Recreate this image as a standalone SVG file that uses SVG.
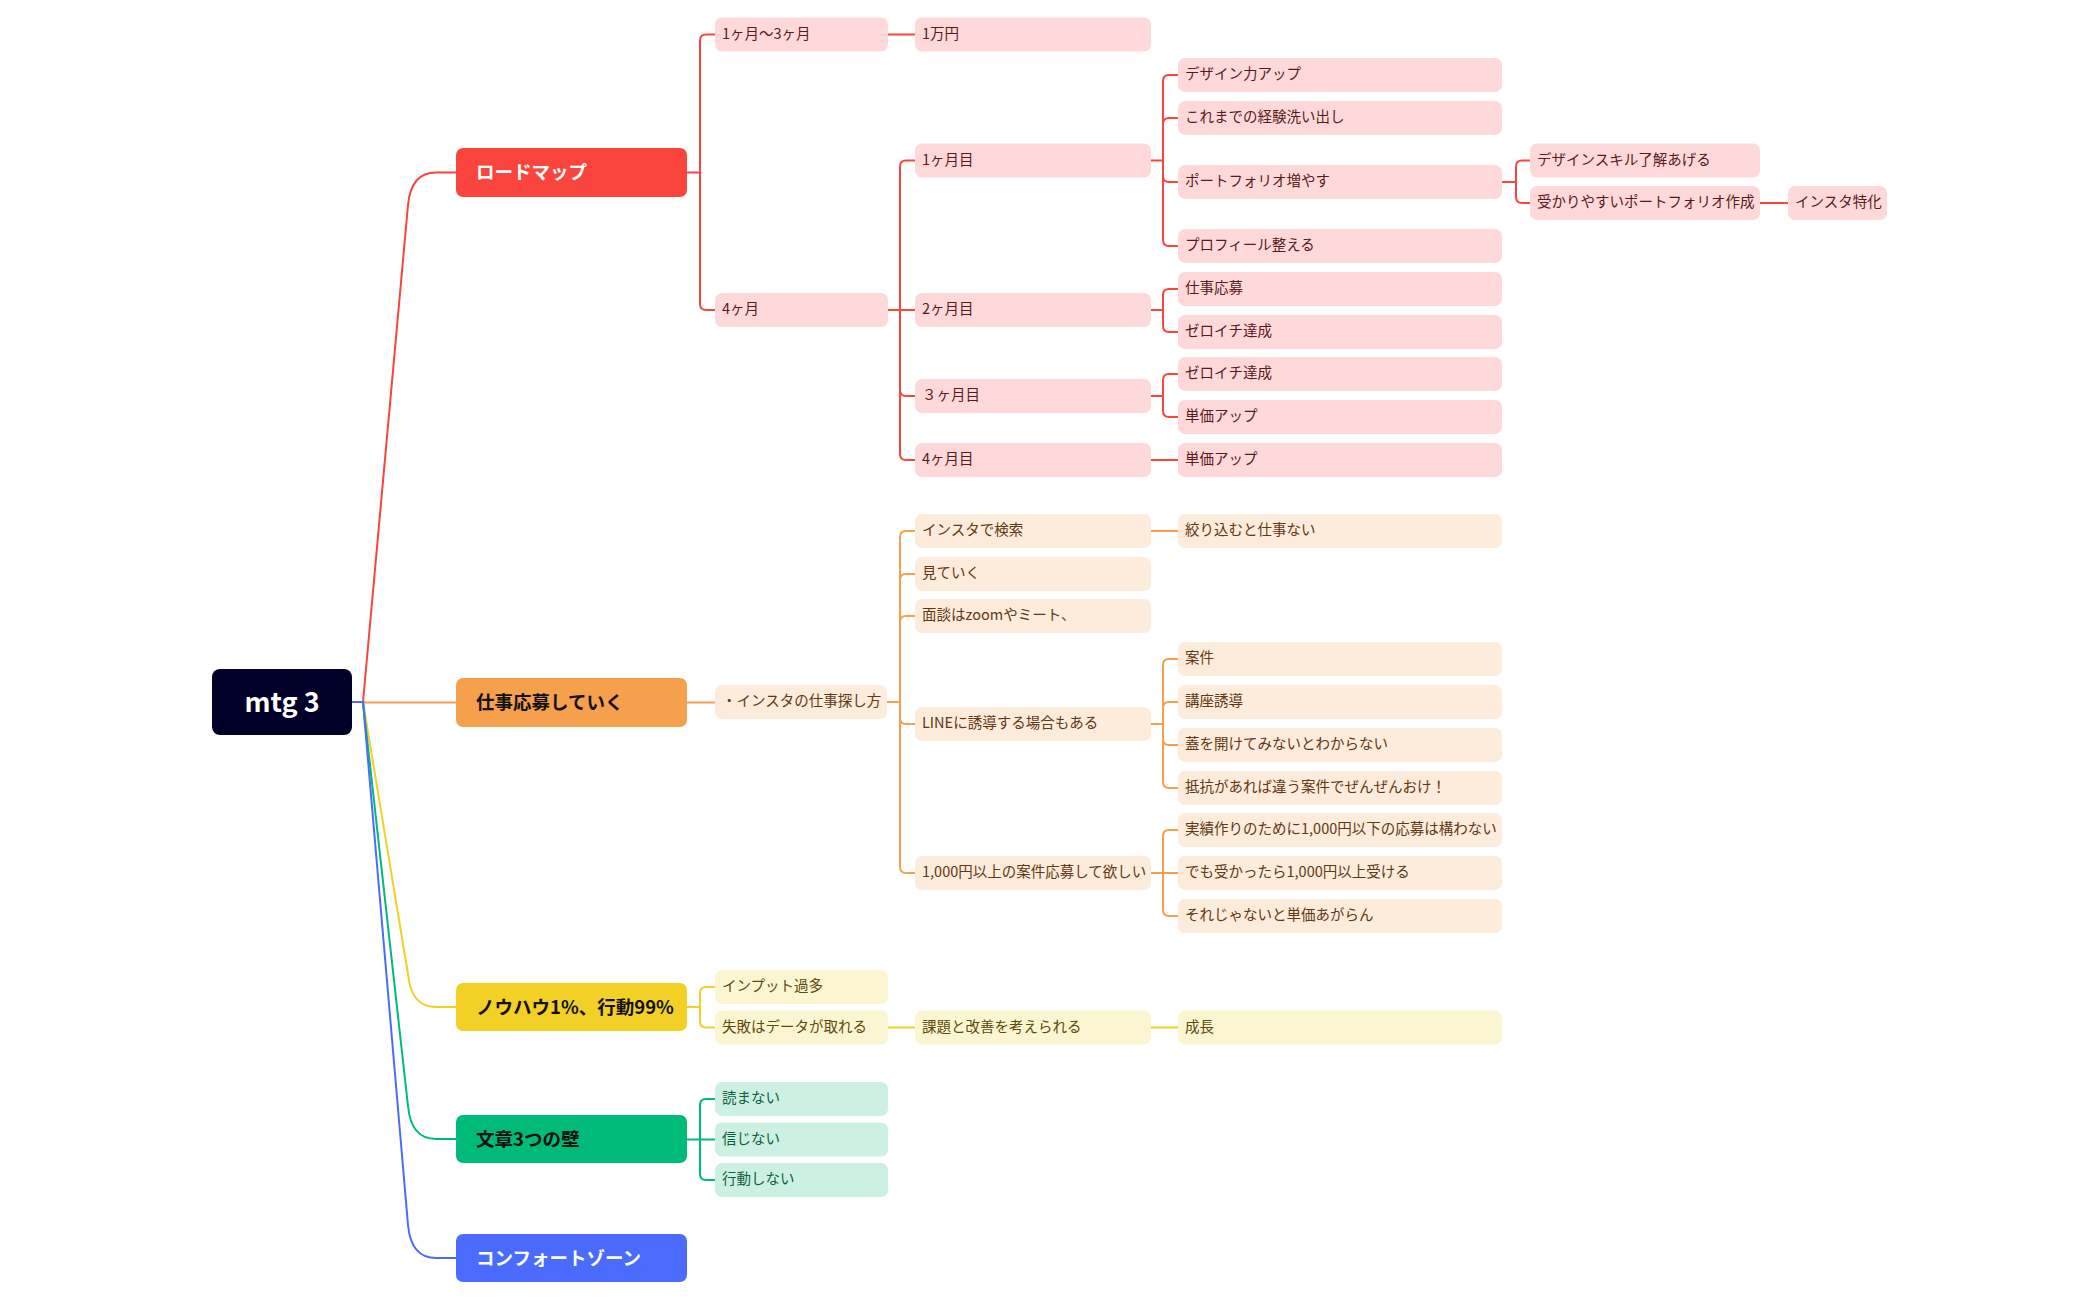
<svg xmlns="http://www.w3.org/2000/svg" width="2099" height="1300" viewBox="0 0 2099 1300">
<style>
text{font-family:"Noto Sans CJK JP","Noto Sans",sans-serif;}
.t{font-size:14.5px;transform:translateY(-1px);}
.l1t{font-size:18.5px;font-weight:bold;}
.c{fill:none;stroke-width:2;stroke-linecap:round;}
.cr{stroke:#F9453E;} .co{stroke:#F6A04D;} .cy{stroke:#F2D026;} .cg{stroke:#00BA7A;} .cb{stroke:#4B6BFF;}
.nr{fill:#FFD9D9;} .no{fill:#FDEBDC;} .ny{fill:#FCF5D2;} .ng{fill:#CCF1E3;}
.tr{fill:#5A1A1A;} .to{fill:#613812;} .ty{fill:#5C4B0A;} .tg{fill:#0F5E41;}
</style>
<rect width="2099" height="1300" fill="#FFFFFF"/>
<g id="connectors">
<path class="c cb" d="M352 702 H364"/>
<path class="c cr" d="M363 702 L408 205 Q411 172.5 436 172.5 H456"/>
<path class="c co" d="M363 702.5 H456"/>
<path class="c cy" d="M363 702 L408 974 Q411 1007 436 1007 H456"/>
<path class="c cg" d="M363 702 L408 1106 Q411 1139 436 1139 H456"/>
<path class="c cb" d="M363 702 L408 1225 Q411 1258 436 1258 H456"/>
<path class="c cr" d="M687 172.5 H700 M700 172.5 V40.5 Q700 34.5 706 34.5 H715 M700 172.5 V304 Q700 310 706 310 H715"/>
<path class="c cr" d="M888 34.5 H915"/>
<path class="c cr" d="M888 310 H915 M900 310 V166.5 Q900 160.5 906 160.5 H915 M900 310 V390 Q900 396 906 396 H915 M900 310 V454 Q900 460 906 460 H915"/>
<path class="c cr" d="M1151 160.5 H1163 M1163 160.5 V81 Q1163 75 1169 75 H1178 M1163 160.5 V124 Q1163 118 1169 118 H1178 M1163 160.5 V176 Q1163 182 1169 182 H1178 M1163 160.5 V240 Q1163 246 1169 246 H1178"/>
<path class="c cr" d="M1151 310 H1163 M1163 310 V295 Q1163 289 1169 289 H1178 M1163 310 V326 Q1163 332 1169 332 H1178"/>
<path class="c cr" d="M1151 396 H1163 M1163 396 V380 Q1163 374 1169 374 H1178 M1163 396 V411 Q1163 417 1169 417 H1178"/>
<path class="c cr" d="M1151 460 H1178"/>
<path class="c cr" d="M1502 182 H1516 M1516 182 V166.5 Q1516 160.5 1522 160.5 H1530 M1516 182 V197 Q1516 203 1522 203 H1530"/>
<path class="c cr" d="M1760 203 H1788"/>
<path class="c co" d="M687 702.5 H715"/>
<path class="c co" d="M887 702 H900 M900 702 V537 Q900 531 906 531 H915 M900 702 V580 Q900 574 906 574 H915 M900 702 V622 Q900 616 906 616 H915 M900 702 V718 Q900 724 906 724 H915 M900 702 V867 Q900 873 906 873 H915"/>
<path class="c co" d="M1151 531 H1178"/>
<path class="c co" d="M1151 724 H1163 M1163 724 V665 Q1163 659 1169 659 H1178 M1163 724 V708 Q1163 702 1169 702 H1178 M1163 724 V739 Q1163 745 1169 745 H1178 M1163 724 V782 Q1163 788 1169 788 H1178"/>
<path class="c co" d="M1151 873 H1178 M1163 873 V836 Q1163 830 1169 830 H1178 M1163 873 V910 Q1163 916 1169 916 H1178"/>
<path class="c cy" d="M687 1007 H700 M700 1007 V993 Q700 987 706 987 H715 M700 1007 V1021.5 Q700 1027.5 706 1027.5 H715"/>
<path class="c cy" d="M888 1027.5 H915"/>
<path class="c cy" d="M1151 1027.5 H1178"/>
<path class="c cg" d="M687 1139.5 H715 M700 1139.5 V1105 Q700 1099 706 1099 H715 M700 1139.5 V1174 Q700 1180 706 1180 H715"/>
</g>
<g id="root"><rect x="212" y="669" width="140" height="66" rx="8" fill="#000028"/><text x="282" y="711.5" text-anchor="middle" font-size="27" font-weight="bold" fill="#FFFFFF">mtg 3</text></g>
<g id="n-roadmap"><rect x="456" y="148" width="231" height="49" rx="7" fill="#F9453E"/><text class="l1t" x="476" y="179" fill="#FFFFFF">ロードマップ</text></g>
<g id="n-shigoto"><rect x="456" y="678" width="231" height="49" rx="7" fill="#F6A04D"/><text class="l1t" x="476" y="709" fill="#111111">仕事応募していく</text></g>
<g id="n-knowhow"><rect x="456" y="983" width="231" height="48" rx="7" fill="#F2D026"/><text class="l1t" x="476" y="1013.5" fill="#111111">ノウハウ1%、行動99%</text></g>
<g id="n-bunsho"><rect x="456" y="1115" width="231" height="48" rx="7" fill="#00BA7A"/><text class="l1t" x="476" y="1145.5" fill="#111111">文章3つの壁</text></g>
<g id="n-comfort"><rect x="456" y="1234" width="231" height="48" rx="7" fill="#4B6BFF"/><text class="l1t" x="476" y="1264.5" fill="#FFFFFF">コンフォートゾーン</text></g>
<g id="r1"><rect class="nr" x="715" y="17.5" width="173" height="34" rx="7"/><text class="t tr" x="722" y="39.5">1ヶ月〜3ヶ月</text></g>
<g id="r2"><rect class="nr" x="715" y="293" width="173" height="34" rx="7"/><text class="t tr" x="722" y="315">4ヶ月</text></g>
<g id="r3"><rect class="nr" x="915" y="17.5" width="236" height="34" rx="7"/><text class="t tr" x="922" y="39.5">1万円</text></g>
<g id="r4"><rect class="nr" x="915" y="143.5" width="236" height="34" rx="7"/><text class="t tr" x="922" y="165.5">1ヶ月目</text></g>
<g id="r5"><rect class="nr" x="915" y="293" width="236" height="34" rx="7"/><text class="t tr" x="922" y="315">2ヶ月目</text></g>
<g id="r6"><rect class="nr" x="915" y="379" width="236" height="34" rx="7"/><text class="t tr" x="922" y="401">３ヶ月目</text></g>
<g id="r7"><rect class="nr" x="915" y="443" width="236" height="34" rx="7"/><text class="t tr" x="922" y="465">4ヶ月目</text></g>
<g id="r8"><rect class="nr" x="1178" y="58" width="324" height="34" rx="7"/><text class="t tr" x="1185" y="80">デザイン力アップ</text></g>
<g id="r9"><rect class="nr" x="1178" y="101" width="324" height="34" rx="7"/><text class="t tr" x="1185" y="123">これまでの経験洗い出し</text></g>
<g id="r10"><rect class="nr" x="1178" y="165" width="324" height="34" rx="7"/><text class="t tr" x="1185" y="187">ポートフォリオ増やす</text></g>
<g id="r11"><rect class="nr" x="1178" y="229" width="324" height="34" rx="7"/><text class="t tr" x="1185" y="251">プロフィール整える</text></g>
<g id="r12"><rect class="nr" x="1178" y="272" width="324" height="34" rx="7"/><text class="t tr" x="1185" y="294">仕事応募</text></g>
<g id="r13"><rect class="nr" x="1178" y="315" width="324" height="34" rx="7"/><text class="t tr" x="1185" y="337">ゼロイチ達成</text></g>
<g id="r14"><rect class="nr" x="1178" y="357" width="324" height="34" rx="7"/><text class="t tr" x="1185" y="379">ゼロイチ達成</text></g>
<g id="r15"><rect class="nr" x="1178" y="400" width="324" height="34" rx="7"/><text class="t tr" x="1185" y="422">単価アップ</text></g>
<g id="r16"><rect class="nr" x="1178" y="443" width="324" height="34" rx="7"/><text class="t tr" x="1185" y="465">単価アップ</text></g>
<g id="r17"><rect class="nr" x="1530" y="143.5" width="230" height="34" rx="7"/><text class="t tr" x="1537" y="165.5">デザインスキル了解あげる</text></g>
<g id="r18"><rect class="nr" x="1530" y="186" width="230" height="34" rx="7"/><text class="t tr" x="1537" y="208">受かりやすいポートフォリオ作成</text></g>
<g id="r19"><rect class="nr" x="1788" y="186" width="99" height="34" rx="7"/><text class="t tr" x="1795" y="208">インスタ特化</text></g>
<g id="o1"><rect class="no" x="715" y="685" width="172" height="34" rx="7"/><text class="t to" x="722" y="707">・インスタの仕事探し方</text></g>
<g id="o2"><rect class="no" x="915" y="514" width="236" height="34" rx="7"/><text class="t to" x="922" y="536">インスタで検索</text></g>
<g id="o3"><rect class="no" x="915" y="557" width="236" height="34" rx="7"/><text class="t to" x="922" y="579">見ていく</text></g>
<g id="o4"><rect class="no" x="915" y="599" width="236" height="34" rx="7"/><text class="t to" x="922" y="621">面談はzoomやミート、</text></g>
<g id="o5"><rect class="no" x="915" y="707" width="236" height="34" rx="7"/><text class="t to" x="922" y="729">LINEに誘導する場合もある</text></g>
<g id="o6"><rect class="no" x="915" y="856" width="236" height="34" rx="7"/><text class="t to" x="922" y="878">1,000円以上の案件応募して欲しい</text></g>
<g id="o7"><rect class="no" x="1178" y="514" width="324" height="34" rx="7"/><text class="t to" x="1185" y="536">絞り込むと仕事ない</text></g>
<g id="o8"><rect class="no" x="1178" y="642" width="324" height="34" rx="7"/><text class="t to" x="1185" y="664">案件</text></g>
<g id="o9"><rect class="no" x="1178" y="685" width="324" height="34" rx="7"/><text class="t to" x="1185" y="707">講座誘導</text></g>
<g id="o10"><rect class="no" x="1178" y="728" width="324" height="34" rx="7"/><text class="t to" x="1185" y="750">蓋を開けてみないとわからない</text></g>
<g id="o11"><rect class="no" x="1178" y="771" width="324" height="34" rx="7"/><text class="t to" x="1185" y="793">抵抗があれば違う案件でぜんぜんおけ！</text></g>
<g id="o12"><rect class="no" x="1178" y="813" width="324" height="34" rx="7"/><text class="t to" x="1185" y="835">実績作りのために1,000円以下の応募は構わない</text></g>
<g id="o13"><rect class="no" x="1178" y="856" width="324" height="34" rx="7"/><text class="t to" x="1185" y="878">でも受かったら1,000円以上受ける</text></g>
<g id="o14"><rect class="no" x="1178" y="899" width="324" height="34" rx="7"/><text class="t to" x="1185" y="921">それじゃないと単価あがらん</text></g>
<g id="y1"><rect class="ny" x="715" y="970" width="173" height="34" rx="7"/><text class="t ty" x="722" y="992">インプット過多</text></g>
<g id="y2"><rect class="ny" x="715" y="1010.5" width="173" height="34" rx="7"/><text class="t ty" x="722" y="1032.5">失敗はデータが取れる</text></g>
<g id="y3"><rect class="ny" x="915" y="1010.5" width="236" height="34" rx="7"/><text class="t ty" x="922" y="1032.5">課題と改善を考えられる</text></g>
<g id="y4"><rect class="ny" x="1178" y="1010.5" width="324" height="34" rx="7"/><text class="t ty" x="1185" y="1032.5">成長</text></g>
<g id="g1"><rect class="ng" x="715" y="1082" width="173" height="34" rx="7"/><text class="t tg" x="722" y="1104">読まない</text></g>
<g id="g2"><rect class="ng" x="715" y="1122.5" width="173" height="34" rx="7"/><text class="t tg" x="722" y="1144.5">信じない</text></g>
<g id="g3"><rect class="ng" x="715" y="1163" width="173" height="34" rx="7"/><text class="t tg" x="722" y="1185">行動しない</text></g>
</svg>
